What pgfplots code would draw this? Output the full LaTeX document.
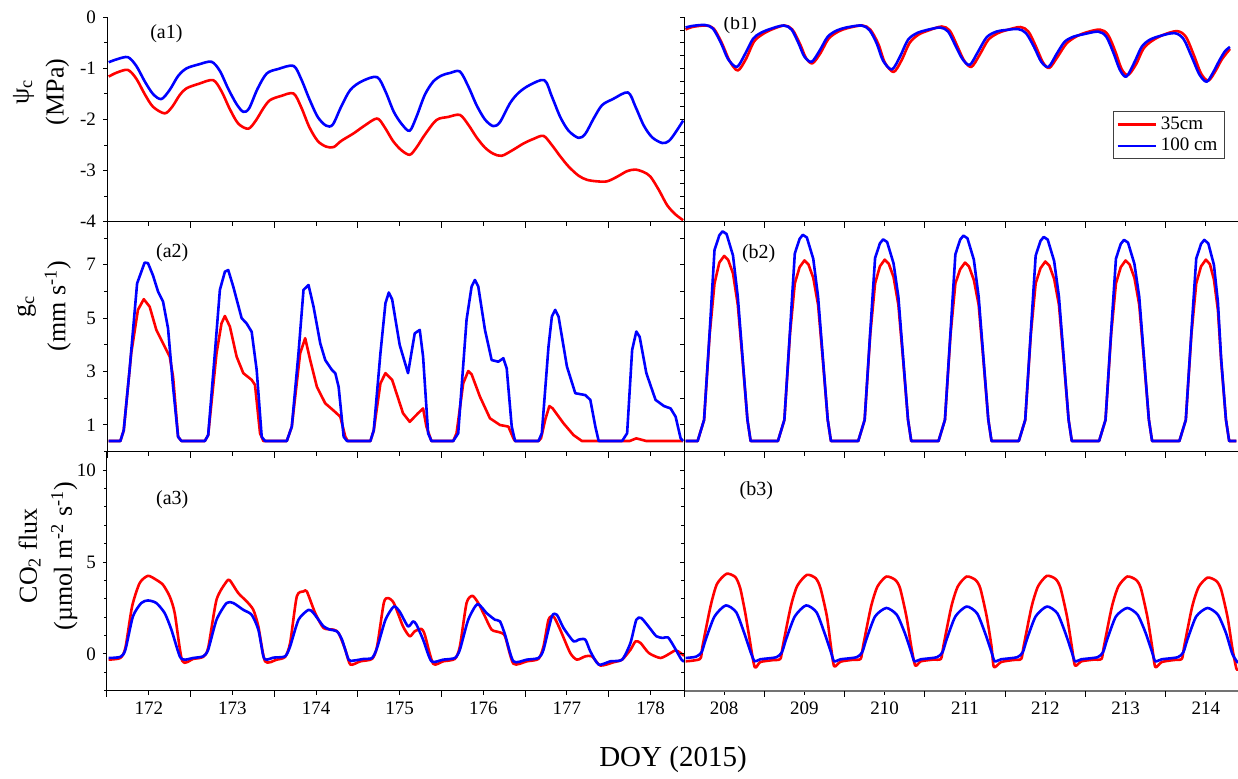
\documentclass[border=0pt]{standalone}
\usepackage{fontspec}
\setmainfont{Liberation Serif}
\usepackage{pgfplots}
\usepackage{pgfplotstable}
\pgfplotsset{compat=1.18}

\definecolor{sRed}{RGB}{255,0,0}
\definecolor{sBlue}{RGB}{0,0,255}

% ---------- canopy water potential, DOY 171.5-178.4 ----------
\pgfplotstableread{
x y
171.52 -1.16
171.62 -1.08
171.75 -1.03
171.85 -1.20
171.95 -1.50
172.05 -1.75
172.19 -1.88
172.28 -1.75
172.37 -1.52
172.45 -1.39
172.60 -1.30
172.77 -1.23
172.87 -1.45
172.97 -1.80
173.07 -2.08
173.19 -2.18
173.28 -2.02
173.37 -1.78
173.45 -1.62
173.58 -1.54
173.73 -1.49
173.82 -1.75
173.92 -2.15
174.02 -2.42
174.12 -2.53
174.21 -2.54
174.30 -2.42
174.45 -2.27
174.58 -2.12
174.73 -1.98
174.82 -2.15
174.92 -2.42
175.02 -2.60
175.12 -2.69
175.20 -2.55
175.30 -2.30
175.44 -2.01
175.58 -1.95
175.72 -1.91
175.82 -2.10
175.92 -2.35
176.02 -2.55
176.12 -2.67
176.22 -2.71
176.35 -2.60
176.48 -2.47
176.60 -2.38
176.72 -2.32
176.82 -2.50
176.92 -2.72
177.02 -2.92
177.14 -3.10
177.24 -3.18
177.36 -3.21
177.48 -3.21
177.60 -3.12
177.72 -3.01
177.82 -2.98
177.92 -3.03
178.00 -3.12
178.10 -3.38
178.20 -3.68
178.30 -3.86
178.39 -3.97
}\psiAred
\pgfplotstableread{
x y
171.52 -0.88
171.62 -0.82
171.75 -0.78
171.85 -0.95
171.95 -1.25
172.05 -1.50
172.15 -1.60
172.25 -1.42
172.35 -1.15
172.45 -1.00
172.60 -0.92
172.75 -0.87
172.85 -1.05
172.95 -1.40
173.05 -1.70
173.13 -1.85
173.20 -1.78
173.30 -1.40
173.41 -1.10
173.55 -1.01
173.73 -0.95
173.82 -1.20
173.92 -1.60
174.02 -1.95
174.12 -2.12
174.20 -2.10
174.30 -1.75
174.41 -1.42
174.55 -1.25
174.73 -1.17
174.83 -1.45
174.93 -1.85
175.03 -2.10
175.12 -2.22
175.20 -1.95
175.30 -1.52
175.40 -1.26
175.50 -1.14
175.60 -1.09
175.72 -1.06
175.82 -1.35
175.92 -1.72
176.02 -2.00
176.12 -2.13
176.20 -2.05
176.32 -1.68
176.42 -1.48
176.55 -1.33
176.73 -1.23
176.82 -1.55
176.92 -1.95
177.02 -2.22
177.14 -2.36
177.22 -2.28
177.32 -1.98
177.42 -1.72
177.55 -1.60
177.73 -1.47
177.82 -1.75
177.92 -2.12
178.02 -2.35
178.14 -2.46
178.22 -2.42
178.30 -2.25
178.39 -2.02
}\psiAblue

% ---------- canopy water potential, DOY 207.5-214.4 ----------
\pgfplotstableread{
x y
207.52 -0.24
207.60 -0.19
207.77 -0.16
207.87 -0.22
207.97 -0.50
208.07 -0.86
208.17 -1.04
208.27 -0.82
208.37 -0.48
208.47 -0.34
208.59 -0.24
208.75 -0.16
208.85 -0.24
208.95 -0.54
209.02 -0.80
209.10 -0.90
209.20 -0.70
209.30 -0.42
209.42 -0.28
209.54 -0.21
209.72 -0.16
209.82 -0.24
209.92 -0.52
210.00 -0.88
210.11 -1.07
210.21 -0.84
210.31 -0.50
210.42 -0.34
210.54 -0.26
210.71 -0.18
210.81 -0.26
210.90 -0.55
210.99 -0.85
211.08 -0.97
211.18 -0.74
211.29 -0.44
211.41 -0.31
211.52 -0.25
211.69 -0.19
211.79 -0.28
211.88 -0.56
211.97 -0.88
212.05 -0.99
212.15 -0.78
212.26 -0.52
212.37 -0.39
212.50 -0.30
212.68 -0.24
212.78 -0.34
212.87 -0.66
212.95 -1.01
213.03 -1.13
213.13 -0.92
213.22 -0.62
213.32 -0.47
213.46 -0.35
213.64 -0.27
213.75 -0.38
213.85 -0.74
213.94 -1.10
214.03 -1.24
214.12 -1.05
214.20 -0.82
214.30 -0.62
}\psiBred
\pgfplotstableread{
x y
207.52 -0.20
207.60 -0.17
207.76 -0.15
207.86 -0.22
207.96 -0.50
208.05 -0.82
208.16 -0.97
208.26 -0.72
208.36 -0.42
208.45 -0.31
208.57 -0.23
208.74 -0.16
208.84 -0.24
208.93 -0.52
209.00 -0.77
209.09 -0.87
209.19 -0.65
209.29 -0.38
209.40 -0.26
209.52 -0.20
209.71 -0.16
209.81 -0.25
209.90 -0.51
209.98 -0.85
210.09 -1.02
210.19 -0.77
210.29 -0.44
210.40 -0.31
210.52 -0.25
210.69 -0.20
210.79 -0.28
210.88 -0.55
210.97 -0.82
211.06 -0.93
211.16 -0.68
211.27 -0.39
211.39 -0.28
211.50 -0.25
211.66 -0.23
211.76 -0.31
211.86 -0.58
211.95 -0.87
212.04 -0.97
212.14 -0.72
212.24 -0.48
212.35 -0.38
212.48 -0.33
212.66 -0.28
212.76 -0.38
212.85 -0.70
212.93 -1.03
213.01 -1.16
213.11 -0.88
213.20 -0.58
213.30 -0.44
213.44 -0.36
213.61 -0.31
213.72 -0.42
213.82 -0.76
213.92 -1.12
214.01 -1.26
214.09 -1.08
214.17 -0.84
214.24 -0.66
214.30 -0.58
}\psiBblue

% ---------- canopy conductance, DOY 171.5-178.4 ----------
\pgfplotstableread{
x y
171.52 0.4
171.66 0.4
171.70 0.8
171.79 3.69
171.87 5.31
171.94 5.71
172.01 5.43
172.09 4.56
172.17 4.06
172.25 3.56
172.29 2.81
172.35 0.56
172.39 0.4
172.67 0.4
172.71 0.62
172.81 3.69
172.87 4.81
172.91 5.08
172.97 4.68
173.05 3.56
173.13 2.94
173.23 2.69
173.27 2.5
173.33 0.69
173.37 0.4
173.65 0.4
173.71 0.94
173.81 3.69
173.87 4.25
173.93 3.43
174.01 2.43
174.11 1.81
174.21 1.54
174.29 1.31
174.35 0.56
174.38 0.4
174.65 0.4
174.69 0.8
174.77 2.56
174.83 2.94
174.91 2.69
175.04 1.44
175.12 1.12
175.22 1.44
175.28 1.62
175.32 0.94
175.38 0.4
175.64 0.4
175.68 0.69
175.76 2.56
175.82 3.02
175.86 2.9
175.96 2.06
176.08 1.25
176.20 1.0
176.30 0.94
176.36 0.5
176.38 0.4
176.66 0.4
176.69 0.5
176.74 1.19
176.79 1.71
176.83 1.62
176.96 1.06
177.08 0.62
177.18 0.4
177.75 0.4
177.83 0.5
177.95 0.4
178.39 0.4
}\gcAred
\pgfplotstableread{
x y
171.52 0.4
171.66 0.4
171.70 0.8
171.77 3.06
171.86 6.3
171.95 7.08
171.99 7.06
172.05 6.6
172.11 6.0
172.17 5.62
172.23 4.62
172.29 2.43
172.35 0.56
172.39 0.4
172.67 0.4
172.71 0.62
172.79 3.69
172.85 6.06
172.91 6.74
172.95 6.80
173.01 6.18
173.11 5.0
173.17 4.8
173.23 4.49
173.29 3.06
173.35 0.56
173.39 0.4
173.65 0.4
173.71 0.94
173.79 3.69
173.85 6.06
173.91 6.24
173.97 5.43
174.05 4.06
174.11 3.43
174.19 3.06
174.23 2.94
174.27 2.43
174.33 0.56
174.37 0.4
174.65 0.4
174.69 0.8
174.77 3.69
174.83 5.56
174.87 5.96
174.91 5.7
175.00 4.0
175.10 2.94
175.18 4.43
175.24 4.56
175.28 3.56
175.34 0.69
175.38 0.4
175.64 0.4
175.70 0.69
175.80 4.94
175.86 6.18
175.90 6.43
175.94 6.18
176.02 4.56
176.10 3.43
176.18 3.37
176.24 3.5
176.28 3.12
176.34 0.94
176.38 0.4
176.66 0.4
176.70 0.69
176.78 3.94
176.82 5.06
176.86 5.31
176.90 5.06
177.00 3.19
177.10 2.19
177.22 2.12
177.28 1.94
177.34 0.94
177.38 0.4
177.66 0.4
177.72 0.69
177.78 3.81
177.83 4.5
177.87 4.3
177.95 2.94
178.06 1.94
178.16 1.71
178.24 1.62
178.30 1.31
178.36 0.5
178.39 0.4
}\gcAblue

% ---------- canopy conductance, DOY 207.5-214.4 ----------
\pgfplotstableread{
x y
207.52 0.4
207.67 0.4
207.75 1.19
207.82 4.4
207.88 6.3
207.94 7.08
208.00 7.33
208.05 7.18
208.11 6.68
208.17 5.5
208.23 3.4
208.29 1.2
208.33 0.4
208.67 0.4
208.75 1.19
208.82 4.4
208.88 6.3
208.94 6.91
209.00 7.16
209.05 7.01
209.11 6.51
209.17 5.5
209.23 3.4
209.29 1.2
209.33 0.4
209.67 0.4
209.75 1.19
209.82 4.4
209.88 6.3
209.94 6.94
210.00 7.19
210.05 7.04
210.11 6.54
210.17 5.5
210.23 3.4
210.29 1.2
210.33 0.4
210.67 0.4
210.75 1.19
210.82 4.4
210.88 6.3
210.94 6.83
211.00 7.08
211.05 6.93
211.11 6.43
211.17 5.5
211.23 3.4
211.29 1.2
211.33 0.4
211.67 0.4
211.75 1.19
211.82 4.4
211.88 6.3
211.94 6.87
212.00 7.12
212.05 6.97
212.11 6.47
212.17 5.5
212.23 3.4
212.29 1.2
212.33 0.4
212.67 0.4
212.75 1.19
212.82 4.4
212.88 6.3
212.94 6.91
213.00 7.16
213.05 7.01
213.11 6.51
213.17 5.5
213.23 3.4
213.29 1.2
213.33 0.4
213.67 0.4
213.75 1.19
213.82 4.4
213.88 6.3
213.94 6.94
214.00 7.19
214.05 7.02
214.10 6.45
214.15 5.3
214.19 3.4
214.25 1.2
214.29 0.4
214.38 0.4
}\gcBred
\pgfplotstableread{
x y
207.52 0.4
207.67 0.4
207.75 1.19
207.82 4.5
207.88 7.55
207.94 8.10
207.98 8.25
208.03 8.15
208.11 7.35
208.17 5.8
208.23 3.5
208.29 1.2
208.33 0.4
208.67 0.4
208.75 1.19
208.82 4.5
208.88 7.42
208.94 7.97
208.98 8.12
209.03 8.02
209.11 7.22
209.17 5.8
209.23 3.5
209.29 1.2
209.33 0.4
209.67 0.4
209.75 1.19
209.82 4.5
209.88 7.25
209.94 7.80
209.98 7.95
210.03 7.85
210.11 7.05
210.17 5.8
210.23 3.5
210.29 1.2
210.33 0.4
210.67 0.4
210.75 1.19
210.82 4.5
210.88 7.39
210.94 7.94
210.98 8.09
211.03 7.99
211.11 7.19
211.17 5.8
211.23 3.5
211.29 1.2
211.33 0.4
211.67 0.4
211.75 1.19
211.82 4.5
211.88 7.34
211.94 7.89
211.98 8.04
212.03 7.94
212.11 7.14
212.17 5.8
212.23 3.5
212.29 1.2
212.33 0.4
212.67 0.4
212.75 1.19
212.82 4.5
212.88 7.23
212.94 7.78
212.98 7.93
213.03 7.83
213.11 7.03
213.17 5.8
213.23 3.5
213.29 1.2
213.33 0.4
213.67 0.4
213.75 1.19
213.82 4.5
213.88 7.23
213.94 7.78
213.98 7.93
214.03 7.80
214.10 7.00
214.15 5.6
214.19 3.5
214.25 1.2
214.29 0.4
214.38 0.4
}\gcBblue

% ---------- CO2 flux, DOY 171.5-178.4 ----------
\pgfplotstableread{
x y
171.52 -0.31
171.66 -0.22
171.72 0.33
171.80 2.58
171.89 3.85
171.99 4.25
172.09 4.03
172.17 3.76
172.25 3.13
172.31 2.22
172.40 -0.38
172.53 -0.27
172.65 -0.16
172.71 0.33
172.81 2.95
172.93 3.94
172.97 4.00
173.07 3.31
173.17 2.86
173.25 2.40
173.31 1.50
173.39 -0.40
173.53 -0.31
173.63 -0.16
173.69 0.60
173.77 3.13
173.85 3.40
173.89 3.40
173.99 2.22
174.09 1.41
174.21 1.32
174.27 1.14
174.35 0.23
174.41 -0.58
174.53 -0.40
174.67 -0.27
174.73 0.41
174.81 2.77
174.86 3.04
174.93 2.77
175.04 1.50
175.12 0.96
175.18 1.23
175.26 1.36
175.30 1.05
175.40 -0.53
175.52 -0.40
175.66 -0.27
175.72 0.41
175.80 2.77
175.87 3.16
175.94 2.77
176.02 2.04
176.10 1.32
176.20 1.17
176.26 0.96
176.36 -0.53
176.52 -0.40
176.66 -0.27
176.72 0.41
176.78 1.86
176.84 2.04
176.92 1.32
177.04 0.05
177.12 -0.31
177.22 -0.13
177.30 -0.13
177.40 -0.63
177.56 -0.45
177.66 -0.31
177.76 0.23
177.82 0.68
177.88 0.60
177.98 0.05
178.12 -0.22
178.24 0.05
178.30 0.20
178.36 0.05
178.40 -0.10
}\coAred
\pgfplotstableread{
x y
171.52 -0.22
171.66 -0.16
171.72 0.23
171.81 2.04
171.91 2.77
171.99 2.91
172.09 2.77
172.19 2.22
172.27 1.32
172.37 -0.13
172.43 -0.31
172.53 -0.22
172.65 -0.13
172.71 0.23
172.81 1.86
172.93 2.77
173.01 2.77
173.13 2.40
173.23 2.13
173.31 1.32
173.37 -0.13
173.41 -0.31
173.49 -0.20
173.63 -0.13
173.69 0.41
173.79 1.86
173.91 2.40
173.97 2.22
174.09 1.50
174.17 1.32
174.25 1.23
174.31 0.78
174.39 -0.31
174.45 -0.36
174.57 -0.27
174.67 -0.22
174.73 0.33
174.83 1.86
174.93 2.58
175.00 2.30
175.10 1.50
175.16 1.77
175.20 1.60
175.28 0.78
175.38 -0.40
175.52 -0.31
175.66 -0.22
175.72 0.23
175.82 1.86
175.93 2.71
176.04 2.22
176.14 1.86
176.20 1.77
176.26 1.05
176.36 -0.40
176.52 -0.31
176.66 -0.22
176.72 0.23
176.82 2.04
176.88 2.13
176.96 1.41
177.08 0.68
177.14 0.78
177.22 0.78
177.28 0.14
177.38 -0.58
177.52 -0.40
177.66 -0.31
177.76 0.60
177.83 1.86
177.89 1.95
177.99 1.41
178.07 0.96
178.15 0.87
178.21 0.90
178.29 0.33
178.37 -0.31
178.40 -0.40
}\coAblue

% ---------- CO2 flux, DOY 207.5-214.4 ----------
\pgfplotstableread{
x y
207.52 -0.40
207.70 -0.27
207.73 0.41
207.83 2.58
207.91 3.80
208.03 4.36
208.14 4.18
208.20 3.58
208.26 2.30
208.31 1.00
208.38 -0.71
208.45 -0.44
208.60 -0.34
208.70 -0.27
208.73 0.41
208.83 2.58
208.91 3.70
209.03 4.30
209.14 4.12
209.20 3.58
209.28 2.04
209.33 0.41
209.37 -0.67
209.45 -0.42
209.60 -0.32
209.70 -0.27
209.73 0.41
209.83 2.58
209.91 3.67
210.02 4.21
210.13 4.03
210.19 3.58
210.27 2.04
210.33 0.41
210.38 -0.63
210.45 -0.40
210.60 -0.31
210.70 -0.27
210.73 0.41
210.83 2.58
210.91 3.67
211.02 4.21
211.13 4.03
211.19 3.58
211.27 2.04
211.33 0.41
211.36 -0.71
211.45 -0.44
211.60 -0.33
211.70 -0.27
211.73 0.41
211.83 2.58
211.91 3.68
212.02 4.25
212.13 4.07
212.19 3.58
212.27 2.04
212.33 0.41
212.37 -0.63
212.45 -0.40
212.60 -0.31
212.70 -0.27
212.73 0.41
212.83 2.58
212.91 3.67
213.02 4.21
213.13 4.03
213.19 3.58
213.27 2.04
213.33 0.41
213.37 -0.71
213.45 -0.44
213.60 -0.33
213.70 -0.27
213.73 0.41
213.83 2.58
213.91 3.64
214.02 4.15
214.13 3.97
214.19 3.50
214.27 2.00
214.33 0.30
214.38 -0.80
214.40 -0.85
}\coBred
\pgfplotstableread{
x y
207.52 -0.22
207.65 -0.15
207.72 0.10
207.77 0.78
207.88 2.04
208.02 2.64
208.15 2.27
208.25 1.14
208.33 0.10
208.38 -0.40
208.45 -0.29
208.65 -0.18
208.72 0.10
208.77 0.78
208.88 2.04
209.02 2.64
209.15 2.27
209.25 1.14
209.33 0.10
209.37 -0.40
209.45 -0.29
209.65 -0.18
209.72 0.10
209.77 0.78
209.88 2.04
210.02 2.50
210.15 2.13
210.25 1.14
210.33 0.10
210.37 -0.40
210.45 -0.29
210.65 -0.18
210.72 0.10
210.77 0.78
210.88 2.04
211.02 2.58
211.15 2.21
211.25 1.14
211.33 0.10
211.37 -0.40
211.45 -0.29
211.65 -0.18
211.72 0.10
211.77 0.78
211.88 2.04
212.02 2.58
212.15 2.21
212.25 1.14
212.33 0.10
212.37 -0.40
212.45 -0.29
212.65 -0.18
212.72 0.10
212.77 0.78
212.88 2.04
213.02 2.50
213.15 2.13
213.25 1.14
213.33 0.10
213.37 -0.40
213.45 -0.29
213.65 -0.18
213.72 0.10
213.77 0.78
213.88 2.04
214.02 2.50
214.15 2.13
214.25 1.14
214.33 0.00
214.40 -0.49
}\coBblue

\tikzset{tag/.style={font=\fontsize{10}{12}\selectfont, anchor=center}}

\pgfplotsset{
  panel/.style={
    scale only axis,
    anchor=south west,
    axis x line*=bottom,
    axis y line*=left,
    axis line style={-, line width=0.5pt, black},
    tick align=outside,
    major tick length=2pt,
    minor tick length=1.3pt,
    tick style={line width=0.5pt, black},
    tick label style={font=\fontsize{9.5}{11}\selectfont},
    /pgf/number format/assume math mode=true,
    every axis plot/.append style={line width=1.3pt, line join=round},
  },
  leftcol/.style={panel,
    width=288.5pt,
    xmin=171.5, xmax=178.4,
    xtick={172,...,178},
    extra x ticks={171.5,172.5,...,177.5},
    extra x tick labels={},
    extra x tick style={major tick length=2.9pt},
  },
  rightcol/.style={panel,
    width=277pt,
    xmin=207.5, xmax=214.4,
    xtick={208,...,214},
    extra x ticks={207.5,208.5,...,213.5},
    extra x tick labels={},
    extra x tick style={major tick length=2.9pt},
    yticklabels={},
  },
  rowone/.style={at={(#1,-110.85pt)}, height=102.2pt, ymin=-4, ymax=0, xticklabels={}},
  rowtwo/.style={at={(#1,-225.85pt)}, height=115pt, ymin=0, ymax=8.61, xticklabels={}},
  rowthree/.style={at={(#1,-345.35pt)}, height=119.5pt, ymin=-2, ymax=11},
}

\begin{document}
\begin{tikzpicture}
\path[use as bounding box] (0,0) rectangle (619pt,-389pt);

% ---- psi_c ----
\begin{axis}[leftcol, rowone={53.5pt},
  ytick={-4,...,0}, minor ytick={-3.5,-2.5,-1.5,-0.5}]
  \addplot[sRed, smooth, tension=0.5] table {\psiAred};
  \addplot[sBlue, smooth, tension=0.5] table {\psiAblue};
  \node[tag] at (axis cs:172.21,-0.32) {(a1)};
\end{axis}
\begin{axis}[rightcol, rowone={342pt},
  ytick={-4,-3.75,...,0},
  legend style={at={(0.774,0.5416)}, anchor=north west,
    font=\fontsize{9.5}{11}\selectfont, draw=black!75, line width=0.5pt,
    inner xsep=1.5pt, inner ysep=0.5pt, row sep=-1pt},
  legend cell align=left,
  legend image code/.code={\draw[#1] (0pt,0pt) -- (19pt,0pt);}]
  \addplot[sRed, smooth, tension=0.5] table {\psiBred};
  \addlegendentry{35cm}
  \addplot[sBlue, smooth, tension=0.5] table {\psiBblue};
  \addlegendentry{100 cm}
  \node[tag] at (axis cs:208.2,-0.15) {(b1)};
\end{axis}

% ---- g_c ----
\begin{axis}[leftcol, rowtwo={53.5pt},
  ytick={1,3,5,7}, minor ytick={0,2,4,6,8}]
  \addplot[sRed] table {\gcAred};
  \addplot[sBlue] table {\gcAblue};
  \node[tag] at (axis cs:172.28,7.46) {(a2)};
\end{axis}
\begin{axis}[rightcol, rowtwo={342pt},
  ytick={0,...,8}]
  \addplot[sRed] table {\gcBred};
  \addplot[sBlue] table {\gcBblue};
  \node[tag] at (axis cs:208.43,7.4) {(b2)};
\end{axis}

% ---- CO2 flux ----
\begin{axis}[leftcol, rowthree={53.5pt},
  ytick={0,5,10}, minor ytick={-2,-1,1,2,3,4,6,7,8,9,11}]
  \addplot[sRed, smooth, tension=0.4] table {\coAred};
  \addplot[sBlue, smooth, tension=0.4] table {\coAblue};
  \node[tag] at (axis cs:172.28,8.37) {(a3)};
\end{axis}
\begin{axis}[rightcol, rowthree={342pt},
  ytick={0,5,10}, minor ytick={-2,-1,1,2,3,4,6,7,8,9,11},
  x axis line style={black!55, line width=0.9pt}]
  \addplot[sRed, smooth, tension=0.4] table {\coBred};
  \addplot[sBlue, smooth, tension=0.4] table {\coBblue};
  \node[tag] at (axis cs:208.40,8.86) {(b3)};
\end{axis}

% ---- axis titles ----
\begin{scope}[every node/.style={rotate=90, align=center,
    font=\fontsize{13}{17.5}\selectfont}]
  \node at (20.5pt,-46pt) {ψ\textsubscript{c}\\(MPa)};
  \node at (22pt,-153pt) {g\textsubscript{c}\\(mm s\textsuperscript{-1})};
  \node at (24pt,-278pt) {CO\textsubscript{2} flux\\(µmol m\textsuperscript{-2} s\textsuperscript{-1})};
\end{scope}
\node[font=\fontsize{14.5}{17}\selectfont] at (336.5pt,-380pt) {DOY (2015)};
\end{tikzpicture}
\end{document}
